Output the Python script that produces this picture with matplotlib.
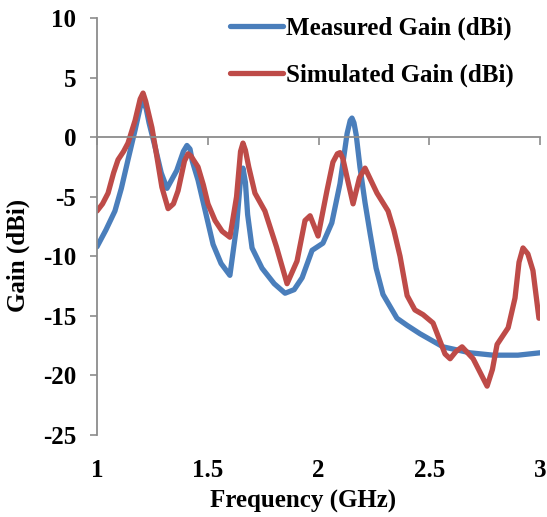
import matplotlib
matplotlib.use('Agg')
import matplotlib.pyplot as plt

# measured gain (dBi)
freq_meas = [1.0, 1.04, 1.081, 1.11, 1.14, 1.172, 1.195, 1.208, 1.222, 1.235, 1.262, 1.29, 1.316,
             1.36, 1.39, 1.406, 1.42, 1.43, 1.456, 1.49, 1.524, 1.56, 1.60, 1.63, 1.648, 1.659,
             1.67, 1.68, 1.70, 1.745, 1.80, 1.849, 1.89, 1.926, 1.971, 2.02, 2.06, 2.097, 2.129,
             2.143, 2.151, 2.16, 2.17, 2.187, 2.21, 2.233, 2.26, 2.291, 2.354, 2.40, 2.458,
             2.562, 2.684, 2.788, 2.90, 3.0]
gain_meas = [-9.2, -7.8, -6.2, -4.3, -1.9, 0.6, 2.5, 3.0, 2.4, 1.2, -0.8, -3.0, -4.3,
             -2.8, -1.2, -0.7, -1.0, -2.0, -3.6, -6.3, -9.0, -10.6, -11.6, -7.5, -3.5, -2.6,
             -3.8, -6.5, -9.3, -11.0, -12.3, -13.1, -12.8, -11.8, -9.5, -8.9, -7.2, -3.9, 0.3,
             1.4, 1.6, 1.2, 0.2, -2.5, -5.5, -8.1, -11.0, -13.2, -15.2, -15.8, -16.5,
             -17.6, -18.1, -18.3, -18.3, -18.1]

# simulated gain (dBi)
freq_sim = [1.0, 1.025, 1.05, 1.075, 1.095, 1.12, 1.14, 1.172, 1.195, 1.208, 1.22, 1.248,
            1.27, 1.293, 1.321, 1.345, 1.366, 1.395, 1.411, 1.425, 1.435, 1.456, 1.48,
            1.501, 1.533, 1.565, 1.60, 1.63, 1.648, 1.659, 1.67, 1.685, 1.713, 1.758,
            1.81, 1.858, 1.903, 1.939, 1.962, 1.998, 2.038, 2.065, 2.085, 2.097, 2.11,
            2.129, 2.156, 2.185, 2.21, 2.264, 2.314, 2.34, 2.368, 2.40, 2.435, 2.472,
            2.517, 2.571, 2.594, 2.62, 2.648, 2.698, 2.761, 2.785, 2.806, 2.856, 2.887,
            2.905, 2.923, 2.945, 2.968, 2.995]
gain_sim = [-6.2, -5.6, -4.7, -3.0, -1.9, -1.2, -0.5, 1.4, 3.2, 3.7, 3.0, 0.8,
            -1.6, -4.2, -6.0, -5.6, -4.5, -2.0, -1.4, -1.6, -1.9, -2.5, -4.0,
            -5.6, -7.0, -7.9, -8.4, -5.0, -1.2, -0.5, -1.1, -2.5, -4.7, -6.2,
            -9.2, -12.3, -10.4, -7.0, -6.6, -8.3, -4.5, -2.1, -1.4, -1.3, -1.8,
            -3.4, -5.6, -3.4, -2.6, -4.7, -6.2, -7.8, -10.0, -13.3, -14.5, -14.9,
            -15.6, -18.2, -18.6, -18.0, -17.6, -18.6, -20.9, -19.5, -17.4, -16.0, -13.5,
            -10.5, -9.3, -9.8, -11.2, -15.2]

xticks = [1, 1.5, 2, 2.5, 3]
xticklabels = ['1', '1.5', '2', '2.5', '3']
yticks = [-25, -20, -15, -10, -5, 0, 5, 10]

plt.rcParams['font.family'] = ['Liberation Serif', 'DejaVu Serif']
plt.rcParams['font.weight'] = 'bold'

fig = plt.figure(figsize=(5.47, 5.17), dpi=100)
ax = fig.add_axes([0.1773, 0.1586, 0.810, 0.8066])

ax.plot(freq_meas, gain_meas, color='#4a7ebb', lw=3.8, solid_joinstyle='round',
        solid_capstyle='round', label='Measured Gain (dBi)')
ax.plot(freq_sim, gain_sim, color='#be4b48', lw=3.8, solid_joinstyle='round',
        solid_capstyle='round', label='Simulated Gain (dBi)')

ymin, ymax = -25, 10
ax.set_xlim(1, 3)
ax.set_ylim(ymin, ymax)

gray = '#8c8c8c'
for s in ['top', 'right']:
    ax.spines[s].set_visible(False)
ax.spines['left'].set_color(gray)
ax.spines['left'].set_linewidth(1.3)
ax.spines['bottom'].set_position(('data', 0))
ax.spines['bottom'].set_color(gray)
ax.spines['bottom'].set_linewidth(1.3)

ax.set_yticks(yticks)
ax.set_yticklabels([str(v) for v in yticks])
ax.tick_params(axis='y', direction='out', length=5, width=1.2, color=gray,
               labelsize=18, pad=10)
ax.set_xticks(xticks)
ax.tick_params(axis='x', direction='out', length=6, width=1.2, color=gray,
               labelbottom=False)

# tick labels sit below the plot, Excel "low" style
lab = ax.secondary_xaxis('bottom')
lab.set_xticks(xticks)
lab.set_xticklabels(xticklabels)
lab.spines['bottom'].set_visible(False)
lab.tick_params(axis='x', length=0, labelsize=18, pad=17)

ax.set_xlabel('Frequency (GHz)', fontsize=18, fontweight='bold')
ax.xaxis.set_label_coords(0.465, -0.132)
ax.set_ylabel('Gain (dBi)', fontsize=18, fontweight='bold')
ax.yaxis.set_label_coords(-0.152, 0.43)

ax.legend(loc='upper right', bbox_to_anchor=(0.94, 1.003), frameon=False,
          fontsize=18, handlelength=2.1, handletextpad=0.12, labelspacing=0.95,
          borderpad=0, borderaxespad=0)

fig.savefig('out.png', dpi=100)
